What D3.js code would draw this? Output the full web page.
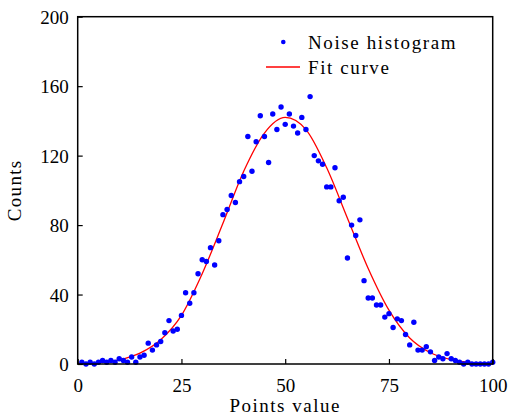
<!DOCTYPE html>
<html>
<head>
<meta charset="utf-8">
<script src="https://cdn.jsdelivr.net/npm/d3@7"></script>
<style>
  body { margin: 0; background: #fff; }
  text { font-family: "Liberation Serif", "Times New Roman", serif; fill: #000; }
</style>
</head>
<body>
<svg width="509" height="417"></svg>
<script>
// histogram counts at points value 1..100
const pointsValue = d3.range(1, 101);
const counts = [1,0,1,0,1,2,1,2,1,3,2,1,4,1,4,5,12,8,11,13,
  18,25,19,20,28,41,35,41,52,60,59,67,57,71,86,89,97,93,105,108,
  131,111,128,143,131,116,144,135,148,138,144,137,133,142,135,154,120,117,115,102,
  102,113,94,96,61,80,74,83,48,38,38,34,34,27,29,21,26,25,17,11,
  24,8,8,10,7,2,4,3,6,3,2,1,0,1,0,0,0,0,0,1];

// fit curve
const fitX = [0,5,10,15,20,25,30,35,40,45,50,55,60,65,70,75,80,85,90,95,100];
const fitY = [0.3,0.8,2.4,6.3,14,28,52,81,111,133,142,135,113,84,55,31,15,6.5,2.5,0.8,0.3];

const xTicks = [0, 25, 50, 75, 100];
const yTicks = [0, 40, 80, 120, 160, 200];

const margin = {top: 16.7, right: 16.3, bottom: 53, left: 77.7};
const width = 509 - margin.left - margin.right;
const height = 417 - margin.top - margin.bottom;

const svg = d3.select("svg");
const g = svg.append("g")
  .attr("transform", `translate(${margin.left},${margin.top})`);

const x = d3.scaleLinear().domain([0, 100]).range([0, width]);
const y = d3.scaleLinear().domain([0, 200]).range([height, 0]);

// fit curve
const line = d3.line()
  .x(d => x(d[0]))
  .y(d => y(d[1]))
  .curve(d3.curveMonotoneX);

g.append("path")
  .datum(d3.zip(fitX, fitY))
  .attr("fill", "none")
  .attr("stroke", "#ff0000")
  .attr("stroke-width", 1.3)
  .attr("d", line);

// points
g.selectAll(".dot")
  .data(d3.zip(pointsValue, counts))
  .enter()
  .append("circle")
  .attr("class", "dot")
  .attr("cx", d => x(d[0]))
  .attr("cy", d => y(d[1]))
  .attr("r", 2.7)
  .attr("fill", "#0000ff");

// axes, ticks pointing inward
const xAxis = g.append("g")
  .attr("transform", `translate(0,${height})`)
  .call(d3.axisBottom(x).tickValues(xTicks).tickSizeInner(-5).tickSizeOuter(0).tickPadding(10));

const yAxis = g.append("g")
  .call(d3.axisLeft(y).tickValues(yTicks).tickSizeInner(-5).tickSizeOuter(0).tickPadding(9));

[xAxis, yAxis].forEach(a => {
  a.select(".domain").remove();
  a.selectAll("line").attr("stroke", "#000").attr("stroke-width", 1.2);
  a.selectAll("text").style("font-size", "19px").attr("font-family", null);
});
xAxis.selectAll("text").attr("dy", "0.95em");
yAxis.selectAll("text").attr("dy", "0.34em");

// frame
g.append("rect")
  .attr("width", width)
  .attr("height", height)
  .attr("fill", "none")
  .attr("stroke", "#000")
  .attr("stroke-width", 1.5);

// axis titles
svg.append("text")
  .attr("x", margin.left + width / 2)
  .attr("y", 412)
  .attr("text-anchor", "middle")
  .style("font-size", "19px")
  .style("letter-spacing", "1.5px")
  .text("Points value");

svg.append("text")
  .attr("transform", `translate(21,${margin.top + height / 2}) rotate(-90)`)
  .attr("text-anchor", "middle")
  .style("font-size", "19px")
  .style("letter-spacing", "1.3px")
  .text("Counts");

// legend
const legend = svg.append("g");
legend.append("circle")
  .attr("cx", 283.3).attr("cy", 42)
  .attr("r", 2.3)
  .attr("fill", "#0000ff");
legend.append("text")
  .attr("x", 308).attr("y", 48.5)
  .style("font-size", "19px")
  .style("letter-spacing", "1.6px")
  .text("Noise histogram");
legend.append("line")
  .attr("x1", 266).attr("x2", 300)
  .attr("y1", 67).attr("y2", 67)
  .attr("stroke", "#ff0000")
  .attr("stroke-width", 1.3);
legend.append("text")
  .attr("x", 308).attr("y", 73.5)
  .style("font-size", "19px")
  .style("letter-spacing", "1.6px")
  .text("Fit curve");
</script>
</body>
</html>
